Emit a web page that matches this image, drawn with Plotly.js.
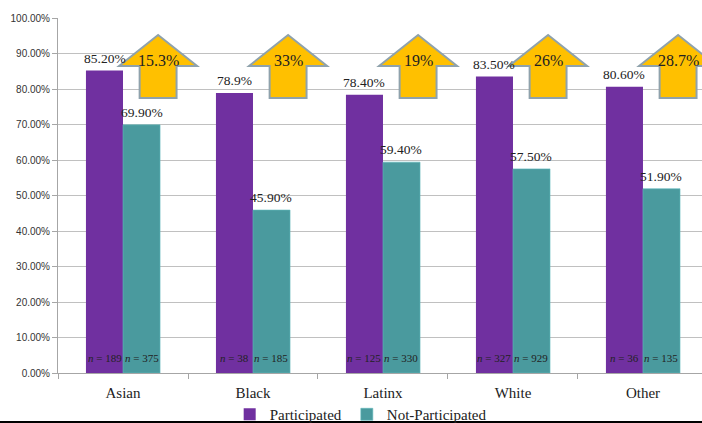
<!DOCTYPE html>
<html>
<head>
<meta charset="utf-8">
<script src="https://cdn.plot.ly/plotly-3.0.1.min.js"></script>
<style>
  html, body { margin: 0; padding: 0; background: #fff; }
  #chart { width: 702px; height: 423px; }
</style>
</head>
<body>
<div id="chart"></div>
<script>
// Participation rates by group (percent)
const groups = ['Asian', 'Black', 'Latinx', 'White', 'Other'];
const participated = [85.2, 78.9, 78.4, 83.5, 80.6];
const notParticipated = [69.9, 45.9, 59.4, 57.5, 51.9];
const participatedLabels = ['85.20%', '78.9%', '78.40%', '83.50%', '80.60%'];
const notParticipatedLabels = ['69.90%', '45.90%', '59.40%', '57.50%', '51.90%'];
const participatedN = [189, 38, 125, 327, 36];
const notParticipatedN = [375, 185, 330, 929, 135];
const gapLabels = ['15.3%', '33%', '19%', '26%', '28.7%'];

const xIdx = groups.map((_, i) => i);
const serif = 'Liberation Serif';
const purple = '#7030A0';
const teal = '#4A9A9E';
const barShift = 18.5; // half a bar, in px

const traces = [
  {
    type: 'bar', name: 'Participated', x: xIdx, y: participated,
    marker: { color: purple }
  },
  {
    type: 'bar', name: 'Not-Participated', x: xIdx, y: notParticipated,
    marker: { color: teal, line: { color: '#5FB8BC', width: 0.6 } }
  }
];

// Up-arrow callouts placed beside each group
const arrowOffset = 0.27, headHalf = 0.3, shaftHalf = 0.142;
const yTip = 95.2, yHead = 86.5, yBase = 77.5;
const shapes = xIdx.map(i => {
  const c = i + arrowOffset;
  const p = [
    [c, yTip], [c + headHalf, yHead], [c + shaftHalf, yHead], [c + shaftHalf, yBase],
    [c - shaftHalf, yBase], [c - shaftHalf, yHead], [c - headHalf, yHead]
  ];
  return {
    type: 'path', xref: 'x', yref: 'y', layer: 'above',
    path: 'M ' + p.map(q => q[0] + ',' + q[1]).join(' L ') + ' Z',
    fillcolor: '#FFC000', line: { color: '#8FA2AC', width: 2 }
  };
});
// rule along the bottom edge
shapes.push({
  type: 'line', xref: 'paper', yref: 'paper', x0: -0.2, x1: 1.2, y0: -0.139, y1: -0.139,
  line: { color: '#000', width: 2.5 }
});

const annotations = [];
xIdx.forEach(i => {
  // value labels above each bar
  annotations.push({
    x: i, y: participated[i], xref: 'x', yref: 'y', xshift: -barShift, yshift: 3,
    yanchor: 'bottom', text: participatedLabels[i], showarrow: false,
    font: { family: serif, size: 13.5, color: '#222' }
  });
  annotations.push({
    x: i, y: notParticipated[i], xref: 'x', yref: 'y', xshift: barShift, yshift: 3,
    yanchor: 'bottom', text: notParticipatedLabels[i], showarrow: false,
    font: { family: serif, size: 13.5, color: '#222' }
  });
  // gap label inside the arrow
  annotations.push({
    x: i + arrowOffset, y: 88, xref: 'x', yref: 'y', text: gapLabels[i],
    showarrow: false, font: { family: serif, size: 16, color: '#222' }
  });
  // sample sizes at the foot of each bar
  annotations.push({
    x: i, y: 0, xref: 'x', yref: 'y', xshift: -barShift, yshift: 7, yanchor: 'bottom',
    text: '<i>n</i> = ' + participatedN[i], showarrow: false,
    font: { family: serif, size: 11, color: '#222' }
  });
  annotations.push({
    x: i, y: 0, xref: 'x', yref: 'y', xshift: barShift, yshift: 7, yanchor: 'bottom',
    text: '<i>n</i> = ' + notParticipatedN[i], showarrow: false,
    font: { family: serif, size: 11, color: '#222' }
  });
});

const layout = {
  width: 702, height: 423,
  margin: { l: 58, r: 0, t: 18, b: 50, autoexpand: false },
  paper_bgcolor: '#fff', plot_bgcolor: '#fff',
  barmode: 'group', bargap: 0.43, bargroupgap: 0,
  showlegend: true,
  legend: {
    orientation: 'h', x: 0.47, xanchor: 'center', y: -0.117, yanchor: 'middle',
    bgcolor: 'rgba(0,0,0,0)',
    font: { family: serif, size: 15, color: '#222' },
    itemwidth: 30, tracegroupgap: 0
  },
  xaxis: {
    type: 'linear', range: [-0.5, 4.454],
    tickmode: 'array', tickvals: xIdx, ticktext: groups, ticks: '',
    ticklabelstandoff: 6,
    tickfont: { family: serif, size: 15, color: '#222' },
    showgrid: false, zeroline: false,
    showline: true, linecolor: '#A6A6A6', linewidth: 1,
    minor: { tickmode: 'array', tickvals: [-0.5, 0.5, 1.5, 2.5, 3.5, 4.5], ticks: 'outside', ticklen: 5, tickcolor: '#A6A6A6', showgrid: false },
    fixedrange: true
  },
  yaxis: {
    range: [0, 100], tickmode: 'linear', tick0: 0, dtick: 10,
    tickformat: '.2f', ticksuffix: '%',
    tickfont: { family: 'Liberation Sans, Arial, sans-serif', size: 10, color: '#333' },
    ticks: 'outside', ticklen: 5, tickcolor: '#A6A6A6',
    showgrid: true, gridcolor: '#C0C0C0', gridwidth: 1,
    zeroline: false, showline: true, linecolor: '#A6A6A6', linewidth: 1,
    fixedrange: true
  },
  shapes: shapes,
  annotations: annotations
};

Plotly.newPlot('chart', traces, layout, { displayModeBar: false, staticPlot: true });
</script>
</body>
</html>
